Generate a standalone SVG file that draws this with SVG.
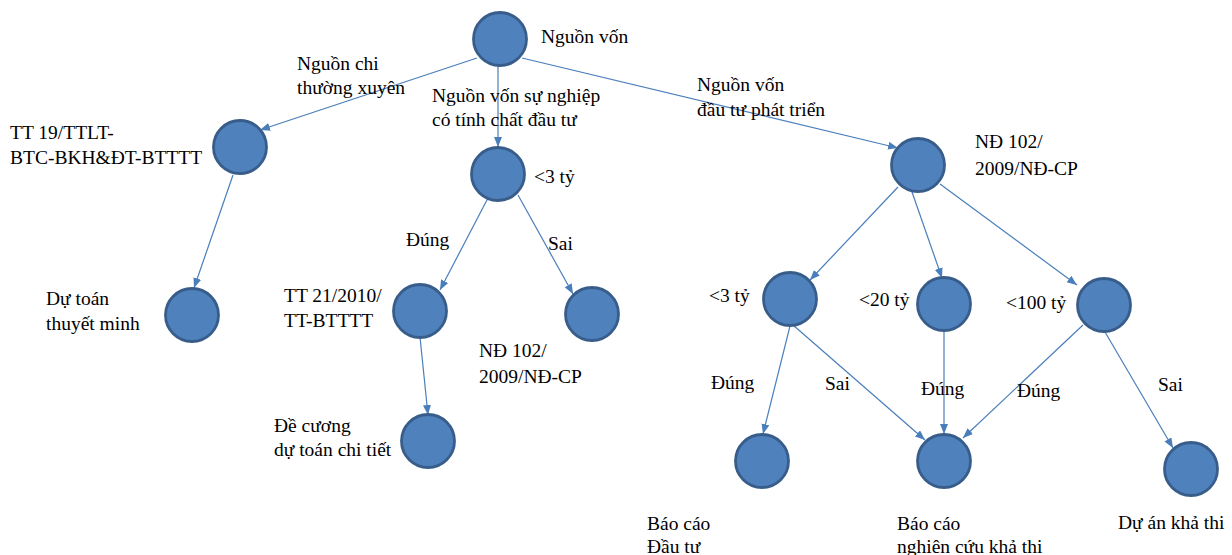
<svg xmlns="http://www.w3.org/2000/svg" width="1232" height="555" viewBox="0 0 1232 555">
<defs>
<style>
.n{fill:#4F81BD;stroke:#385D8A;stroke-width:2.8}
.e{stroke:#4A7EBB;stroke-width:1.2;fill:none;marker-end:url(#ah)}
.t{font-family:'Liberation Serif','Times New Roman',serif;font-size:19.5px;fill:#000}
</style>
<marker id="ah" markerUnits="userSpaceOnUse" markerWidth="11" markerHeight="9" refX="10" refY="4" orient="auto">
<path d="M0,0 L10,4 L0,8 z" fill="#4A7EBB"/>
</marker>
</defs>
<rect width="1232" height="555" fill="#fff"/>
<g id="connectors">
<line class="e" x1="477" y1="58" x2="260" y2="130"/>
<line class="e" x1="498" y1="66" x2="498" y2="147"/>
<line class="e" x1="522" y1="58" x2="898" y2="148"/>
<line class="e" x1="233" y1="175" x2="194" y2="288"/>
<line class="e" x1="488" y1="198" x2="440" y2="290"/>
<line class="e" x1="518" y1="195" x2="573" y2="294"/>
<line class="e" x1="420" y1="337" x2="428" y2="415"/>
<line class="e" x1="898" y1="187" x2="810" y2="280"/>
<line class="e" x1="912" y1="192" x2="942" y2="278"/>
<line class="e" x1="940" y1="184" x2="1077" y2="285"/>
<line class="e" x1="790" y1="326" x2="763" y2="434"/>
<line class="e" x1="793" y1="325" x2="925" y2="440"/>
<line class="e" x1="944" y1="331" x2="944" y2="434"/>
<line class="e" x1="1083" y1="325" x2="963" y2="438"/>
<line class="e" x1="1105" y1="332" x2="1173" y2="448"/>
</g>
<g id="edge-labels" class="t">
<text x="297" y="70">Nguồn chi</text>
<text x="297" y="94">thường xuyên</text>
<text x="432" y="102">Nguồn vốn sự nghiệp</text>
<text x="432" y="126">có tính chất đầu tư</text>
<text x="697" y="91">Nguồn vốn</text>
<text x="697" y="116">đầu tư phát triển</text>
<text x="406" y="246">Đúng</text>
<text x="548" y="250">Sai</text>
<text x="711" y="389">Đúng</text>
<text x="825" y="390">Sai</text>
<text x="921" y="395">Đúng</text>
<text x="1017" y="397">Đúng</text>
<text x="1158" y="391">Sai</text>
</g>
<g id="n-root" class="t"><circle class="n" cx="500" cy="39" r="26.5"/><text x="541" y="43">Nguồn vốn</text></g>
<g id="n-tt19" class="t"><circle class="n" cx="240" cy="147" r="26.5"/><text x="10" y="139">TT 19/TTLT-</text><text x="10" y="164">BTC-BKH&amp;ĐT-BTTTT</text></g>
<g id="n-dutoan" class="t"><circle class="n" cx="192" cy="315" r="26.5"/><text x="46" y="305">Dự toán</text><text x="46" y="330">thuyết minh</text></g>
<g id="n-3ty-a" class="t"><circle class="n" cx="498" cy="174" r="26.5"/><text x="534" y="183">&lt;3 tỷ</text></g>
<g id="n-tt21" class="t"><circle class="n" cx="420" cy="311" r="26.5"/><text x="284" y="302">TT 21/2010/</text><text x="284" y="327">TT-BTTTT</text></g>
<g id="n-nd102-a" class="t"><circle class="n" cx="592" cy="314" r="26.5"/><text x="479" y="357">NĐ 102/</text><text x="479" y="383">2009/NĐ-CP</text></g>
<g id="n-decuong" class="t"><circle class="n" cx="428" cy="441" r="26.5"/><text x="274" y="432">Đề cương</text><text x="274" y="456">dự toán chi tiết</text></g>
<g id="n-nd102-b" class="t"><circle class="n" cx="918" cy="165" r="26.5"/><text x="975" y="148">NĐ 102/</text><text x="975" y="175">2009/NĐ-CP</text></g>
<g id="n-3ty-b" class="t"><circle class="n" cx="790" cy="299" r="26.5"/><text x="709" y="302">&lt;3 tỷ</text></g>
<g id="n-20ty" class="t"><circle class="n" cx="944" cy="304" r="26.5"/><text x="859" y="306">&lt;20 tỷ</text></g>
<g id="n-100ty" class="t"><circle class="n" cx="1104" cy="305" r="26.5"/><text x="1006" y="309">&lt;100 tỷ</text></g>
<g id="n-bcdt" class="t"><circle class="n" cx="762" cy="461" r="26.5"/><text x="647" y="530">Báo cáo</text><text x="647" y="553">Đầu tư</text></g>
<g id="n-nckt" class="t"><circle class="n" cx="944" cy="461" r="26.5"/><text x="897" y="530">Báo cáo</text><text x="897" y="553">nghiên cứu khả thi</text></g>
<g id="n-dakt" class="t"><circle class="n" cx="1191" cy="469" r="26.5"/><text x="1118" y="529">Dự án khả thi</text></g>
</svg>
